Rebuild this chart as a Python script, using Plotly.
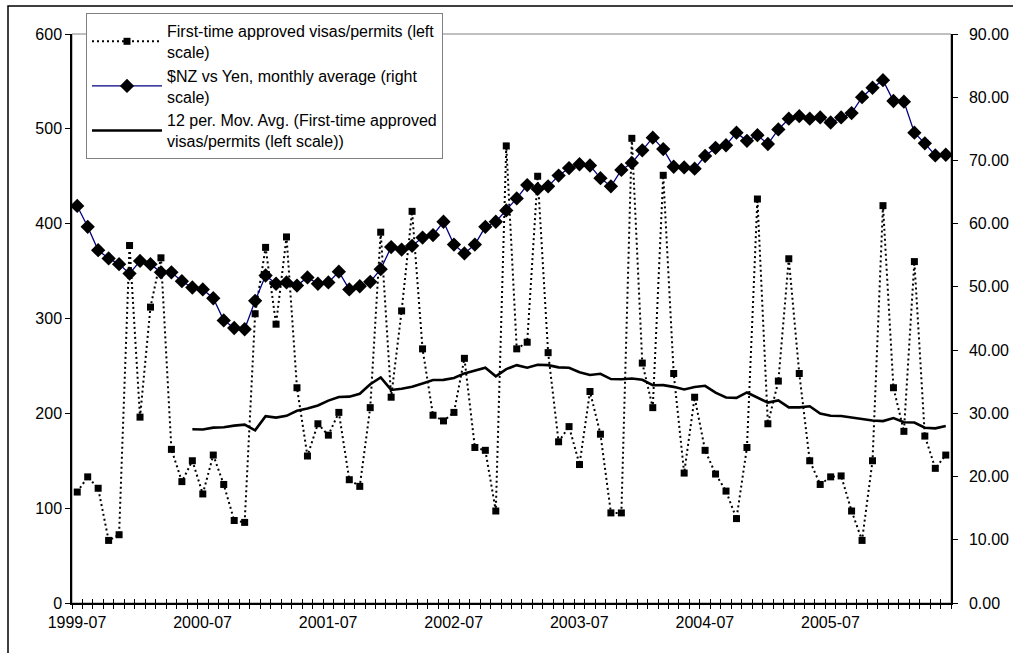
import numpy as np
import pandas as pd
import plotly.graph_objects as go

# ---- data -------------------------------------------------------------
months = pd.period_range("1999-07", "2006-06", freq="M").strftime("%Y-%m").tolist()
tick_labels = ["1999-07", "2000-07", "2001-07", "2002-07", "2003-07", "2004-07", "2005-07"]

visas = [117, 133, 121, 66, 72, 377, 196, 312, 364, 162, 128, 150,
         115, 156, 125, 87, 85, 305, 375, 294, 386, 227, 155, 189,
         177, 201, 130, 123, 206, 391, 217, 308, 413, 268, 198, 192,
         201, 258, 164, 161, 97, 482, 268, 275, 450, 264, 170, 186,
         146, 223, 178, 95, 95, 490, 253, 206, 451, 242, 137, 217,
         161, 136, 118, 89, 164, 426, 189, 234, 363, 242, 150, 125,
         133, 134, 97, 66, 150, 419, 227, 181, 360, 176, 142, 156]

nzd_jpy = [62.8, 59.5, 55.8, 54.5, 53.6, 52.1, 54.1, 53.6, 52.3, 52.3, 50.9, 49.9,
           49.6, 48.2, 44.7, 43.5, 43.3, 47.8, 51.8, 50.5, 50.7, 50.2, 51.5, 50.5,
           50.7, 52.4, 49.6, 50.1, 50.8, 52.8, 56.3, 55.9, 56.5, 57.8, 58.2, 60.3,
           56.7, 55.3, 56.7, 59.5, 60.3, 62.1, 64.0, 66.1, 65.5, 65.9, 67.6, 68.8,
           69.4, 69.2, 67.2, 65.9, 68.5, 69.6, 71.6, 73.6, 71.8, 69.0, 68.9, 68.7,
           70.7, 72.0, 72.4, 74.4, 73.1, 74.0, 72.6, 74.9, 76.6, 77.0, 76.6, 76.8,
           76.0, 76.8, 77.5, 80.0, 81.5, 82.7, 79.4, 79.3, 74.4, 72.7, 70.8, 70.9]

names = ["First-time approved visas/permits (left<br>scale)",
         "$NZ vs Yen, monthly average (right<br>scale)",
         "12 per. Mov. Avg. (First-time approved<br>visas/permits (left scale))"]

# ---- derived ----------------------------------------------------------
x = np.arange(len(months))
mov_avg = pd.Series(visas).rolling(12).mean()
boundaries = [i - 0.5 for i in range(len(months) + 1)]
label_for = {m: m for m in tick_labels}
boundary_text = [label_for.get(months[i], "") if i < len(months) else "" for i in range(len(boundaries))]

FONT = "Liberation Sans, Arial, sans-serif"

fig = go.Figure()
fig.add_trace(go.Scatter(
    x=x, y=visas, name=names[0], mode="lines+markers",
    line=dict(color="black", width=2, dash="2px,3px"),
    marker=dict(symbol="square", size=7, color="black"),
    xaxis="x", yaxis="y", customdata=months,
))
fig.add_trace(go.Scatter(
    x=x, y=nzd_jpy, name=names[1], mode="lines+markers",
    line=dict(color="#000080", width=1.3),
    marker=dict(symbol="diamond", size=11, color="black"),
    xaxis="x", yaxis="y2", customdata=months,
))
fig.add_trace(go.Scatter(
    x=x, y=mov_avg, name=names[2], mode="lines",
    line=dict(color="black", width=2.6),
    xaxis="x2", yaxis="y", customdata=months,
))

n = len(months)
xr = [-0.5, n - 0.5]
cat_px = 879 / n

fig.update_layout(
    width=1013, height=653,
    margin=dict(l=72, r=62, t=34, b=50, autoexpand=False),
    paper_bgcolor="white", plot_bgcolor="white",
    font=dict(family=FONT, size=16, color="black"),
    showlegend=True,
    hovermode=False,
    legend=dict(
        x=(86 - 72) / 879, y=(603 - 13) / 569, xanchor="left", yanchor="top",
        bgcolor="white", bordercolor="#808080", borderwidth=1,
        font=dict(family=FONT, size=16, color="black"),
        itemwidth=70, tracegroupgap=2, traceorder="normal",
    ),
    xaxis=dict(
        range=xr, tickmode="array", tickvals=boundaries, ticktext=boundary_text,
        ticklabelshift=int(round(cat_px / 2)), ticks="outside", ticklen=4, tickwidth=1,
        tickcolor="black", showline=True, linecolor="black", linewidth=1.5,
        showgrid=False, zeroline=False, automargin=False,
        tickfont=dict(family=FONT, size=16, color="black"),
    ),
    xaxis2=dict(
        range=xr, overlaying="x", anchor="y", matches="x", tickmode="array",
        tickvals=boundaries, ticktext=[""] * len(boundaries), ticks="inside",
        ticklen=4, tickwidth=1, tickcolor="black", showline=False,
        showgrid=False, zeroline=False, showticklabels=False, automargin=False,
    ),
    yaxis=dict(
        range=[0, 600], tickmode="linear", tick0=0, dtick=100, ticks="outside",
        ticklen=5, tickcolor="black", showline=True, linecolor="black",
        linewidth=1.5, showgrid=False, zeroline=False, automargin=False,
        tickfont=dict(family=FONT, size=16, color="black"),
    ),
    yaxis2=dict(
        range=[0, 90], tickmode="linear", tick0=0, dtick=10, tickformat=".2f",
        overlaying="y", side="right", anchor="x", ticks="outside", ticklen=5,
        tickcolor="black", showline=True, linecolor="black", linewidth=1.5,
        showgrid=False, zeroline=False, automargin=False, ticklabelstandoff=8,
        tickfont=dict(family=FONT, size=16, color="black"),
    ),
    shapes=[
        dict(type="rect", xref="paper", yref="paper", x0=0, x1=1, y0=0, y1=1,
             line=dict(color="#808080", width=1), layer="below"),
        dict(type="rect", xref="paper", yref="paper",
             x0=(8 - 72) / 879, x1=(1030 - 72) / 879,
             y0=(603 - 670) / 569, y1=(603 - 6) / 569,
             line=dict(color="black", width=1.5), layer="above"),
    ],
)

fig.write_html("out.html", config={"displayModeBar": False},
               post_script="document.body.style.margin='0';")
